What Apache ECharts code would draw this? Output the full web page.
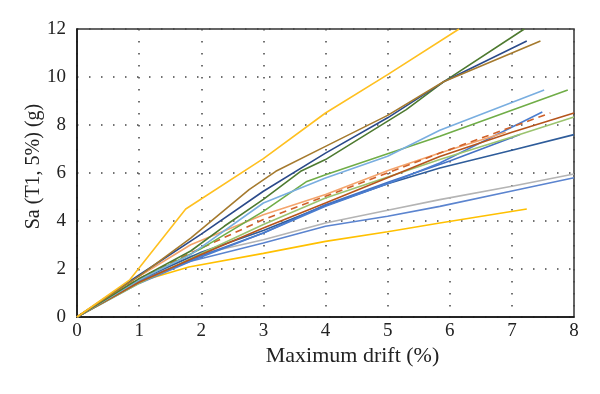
<!DOCTYPE html>
<html><head><meta charset="utf-8">
<script src="https://cdn.jsdelivr.net/npm/echarts@6/dist/echarts.min.js"></script>
<style>html,body{margin:0;padding:0;background:#fff}#c{width:600px;height:394px}</style>
</head><body><div id="c"></div>
<script>
// axis ticks
const xTicks = [0,1,2,3,4,5,6,7,8];
const yTicks = [0,2,4,6,8,10,12];
// series data: [drift %, Sa g]
const sYellowTop   = [[0,0],[0.85,1.55],[1.75,4.5],[3,6.6],[4,8.5],[5,10.1],[6.15,12]];
const sDarkGold    = [[0,0],[1,1.7],[1.83,3.29],[2.77,5.31],[3.2,6.07],[4,7.11],[5,8.4],[5.9,9.8],[7.46,11.5]];
const sNavy        = [[0,0],[1,1.75],[2,3.45],[3,5.24],[4,6.83],[5,8.3],[5.9,9.8],[7.24,11.5]];
const sDarkGreen   = [[0,0],[1,1.6],[1.83,2.75],[2.37,3.78],[3,4.9],[3.6,6.07],[4,6.56],[5.3,8.64],[5.9,9.8],[7.2,12]];
const sLightBlue   = [[0,0],[1,1.55],[1.83,2.6],[3,4.75],[4,5.79],[5,6.7],[5.84,7.78],[7.52,9.46]];
const sGreen       = [[0,0],[1,1.55],[2,2.85],[3,4.4],[3.7,5.65],[4,5.93],[5,6.8],[5.84,7.53],[7.9,9.46]];
const sOrange      = [[0,0],[1,1.7],[1.83,3.01],[3,4.26],[4,5.1],[5.04,6.14],[5.84,6.83],[6.9,7.7]];
const sDashed      = [[0,0],[1,1.6],[1.83,2.67],[3,4.06],[4,5.03],[5.84,6.83],[7.62,8.5]];
const sRust        = [[0,0],[1,1.45],[2,2.6],[3,3.71],[4,4.75],[5.84,6.69],[7,7.7],[8,8.5]];
const sLightGreen  = [[0,0],[1,1.4],[2,2.65],[3,3.85],[4,4.96],[5.84,6.56],[7,7.5],[8,8.33]];
const sBlueA       = [[0,0],[1,1.5],[2,2.5],[3,3.5],[4,4.61],[5,5.55],[5.84,6.42],[7.49,8.54]];
const sBlueB       = [[0,0],[1,1.5],[2,2.55],[3,3.5],[4,4.68],[5.04,5.65],[6,6.5],[7.13,7.6]];
const sDarkBlue    = [[0,0],[1,1.55],[2,2.7],[3,3.6],[4,4.65],[5,5.55],[5.84,6.21],[7,6.95],[8,7.6]];
const sGray        = [[0,0],[1,1.5],[1.83,2.53],[3,3.22],[4,3.92],[5,4.45],[5.84,4.89],[7,5.45],[8,5.96]];
const sBlueLow     = [[0,0],[1,1.4],[1.83,2.32],[3,3.08],[4,3.78],[5,4.2],[5.84,4.61],[7,5.25],[8,5.8]];
const sGoldLow     = [[0,0],[0.9,1.4],[1.8,2.08],[3,2.65],[4,3.15],[5,3.55],[5.84,3.92],[7.24,4.5]];

const defs = [
  [sGoldLow,'#FFC000','solid'],
  [sBlueLow,'#5B84CF','solid'],
  [sGray,'#B4B4B4','solid'],
  [sDarkBlue,'#2E5C9A','solid'],
  [sBlueB,'#4472C4','solid'],
  [sBlueA,'#4A7DD0','solid'],
  [sLightGreen,'#9BC36E','solid'],
  [sRust,'#B5541C','solid'],
  [sOrange,'#F4A46C','solid'],
  [sDashed,'#D0622A','dashed'],
  [sGreen,'#70AD47','solid'],
  [sLightBlue,'#79AEE0','solid'],
  [sDarkGreen,'#4E7A30','solid'],
  [sNavy,'#2B4A8A','solid'],
  [sDarkGold,'#A57A2E','solid'],
  [sYellowTop,'#FFC020','solid']
];

const font = 'Liberation Serif';
const chart = echarts.init(document.getElementById('c'));
chart.setOption({
  animation:false,
  grid:{left:77,right:26,top:29,bottom:77,show:true,borderColor:'#333',borderWidth:1.5,backgroundColor:'#fff'},
  xAxis:{type:'value',min:xTicks[0],max:xTicks[xTicks.length-1],interval:1,
    name:'Maximum drift (%)',nameLocation:'middle',nameGap:28,nameMoveOverlap:false,
    nameTextStyle:{fontFamily:font,fontSize:22,color:'#222',padding:[0,0,0,54]},
    axisLine:{show:true,lineStyle:{color:'#111',width:1.5}},axisTick:{show:false},
    axisLabel:{fontFamily:font,fontSize:19,color:'#222',margin:5},
    splitLine:{show:true,lineStyle:{color:'#444',width:1.5,type:[1.5,10.5]}}},
  yAxis:{type:'value',min:yTicks[0],max:yTicks[yTicks.length-1],interval:2,
    name:'Sa (T1, 5%) (g)',nameLocation:'middle',nameGap:33,nameMoveOverlap:false,
    nameTextStyle:{fontFamily:font,fontSize:20,color:'#222',padding:[0,0,0,13]},
    axisLine:{show:true,lineStyle:{color:'#111',width:1.5}},axisTick:{show:false},
    axisLabel:{fontFamily:font,fontSize:19,color:'#222',margin:11},
    splitLine:{show:true,lineStyle:{color:'#444',width:1.5,type:[1.5,10.5]}}},
  series: defs.map(d=>({type:'line',data:d[0],showSymbol:false,symbol:'none',
    lineStyle:{color:d[1],width:1.6,type:d[2]==='dashed'?[7,5]:'solid'},z:3}))
});
</script></body></html>
